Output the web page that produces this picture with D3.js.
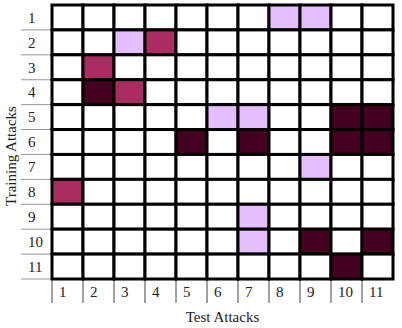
<!DOCTYPE html>
<html lang="en">
<head>
    <meta charset="UTF-8">
    <title>Training vs Test Attacks</title>
    <script src="https://d3js.org/d3.v7.min.js"></script>
    <style>
        body {
            margin: 0;
            padding: 0;
            background: #fff;
        }
        svg text {
            font-family: "Liberation Serif", "Times New Roman", serif;
            font-size: 15px;
            fill: #222;
        }
    </style>
</head>
<body>
    <div id="chart"></div>

    <script>
        // attack numbers on both axes
        const trainAttacks = ['1', '2', '3', '4', '5', '6', '7', '8', '9', '10', '11'];
        const testAttacks = ['1', '2', '3', '4', '5', '6', '7', '8', '9', '10', '11'];

        // shaded cells: [training, test], grouped by shade level
        const lightCells = [['1', '8'], ['1', '9'], ['2', '3'], ['5', '6'], ['5', '7'],
                            ['7', '9'], ['9', '7'], ['10', '7']];
        const mediumCells = [['2', '4'], ['3', '2'], ['4', '3'], ['8', '1']];
        const darkCells = [['4', '2'], ['5', '10'], ['5', '11'], ['6', '5'], ['6', '7'],
                           ['6', '10'], ['6', '11'], ['10', '9'], ['10', '11'], ['11', '10']];

        const levelColors = ['#ffffff', '#e5befd', '#aa2d62', '#43001f'];

        const width = 402, height = 328;
        const margin = { top: 5, right: 9, bottom: 49, left: 52 };

        // build full matrix
        const level = {};
        lightCells.forEach(([r, c]) => level[r + '-' + c] = 1);
        mediumCells.forEach(([r, c]) => level[r + '-' + c] = 2);
        darkCells.forEach(([r, c]) => level[r + '-' + c] = 3);
        const cells = [];
        trainAttacks.forEach(r => testAttacks.forEach(c => {
            cells.push({ row: r, col: c, level: level[r + '-' + c] || 0 });
        }));

        const svg = d3.select('#chart')
            .append('svg')
            .attr('width', width)
            .attr('height', height);

        const x = d3.scaleBand()
            .domain(testAttacks)
            .range([margin.left, width - margin.right]);

        const y = d3.scaleBand()
            .domain(trainAttacks)
            .range([margin.top, height - margin.bottom]);

        // row separators on the left
        svg.append('g')
            .selectAll('line')
            .data(trainAttacks)
            .enter().append('line')
            .attr('x1', 21)
            .attr('x2', margin.left)
            .attr('y1', d => y(d) + y.bandwidth())
            .attr('y2', d => y(d) + y.bandwidth())
            .attr('stroke', '#999')
            .attr('stroke-width', 1);

        svg.append('g')
            .selectAll('text')
            .data(trainAttacks)
            .enter().append('text')
            .attr('x', 28)
            .attr('y', d => y(d) + y.bandwidth() / 2)
            .attr('dy', '0.35em')
            .text(d => d);

        // column separators below
        svg.append('g')
            .selectAll('line')
            .data(testAttacks)
            .enter().append('line')
            .attr('x1', d => x(d))
            .attr('x2', d => x(d))
            .attr('y1', height - margin.bottom)
            .attr('y2', 303)
            .attr('stroke', '#444')
            .attr('stroke-width', 1);

        svg.append('g')
            .selectAll('text')
            .data(testAttacks)
            .enter().append('text')
            .attr('x', d => x(d) + 7)
            .attr('y', 297)
            .text(d => d);

        // cells
        svg.append('g')
            .selectAll('rect')
            .data(cells)
            .enter().append('rect')
            .attr('x', d => x(d.col))
            .attr('y', d => y(d.row))
            .attr('width', x.bandwidth())
            .attr('height', y.bandwidth())
            .attr('fill', d => levelColors[d.level])
            .attr('stroke', '#000')
            .attr('stroke-width', 3);

        // axis titles
        svg.append('text')
            .attr('x', (margin.left + width - margin.right) / 2)
            .attr('y', 322)
            .attr('text-anchor', 'middle')
            .text('Test Attacks');

        svg.append('text')
            .attr('transform', 'translate(16,156) rotate(-90)')
            .attr('text-anchor', 'middle')
            .text('Training Attacks');
    </script>
</body>
</html>
